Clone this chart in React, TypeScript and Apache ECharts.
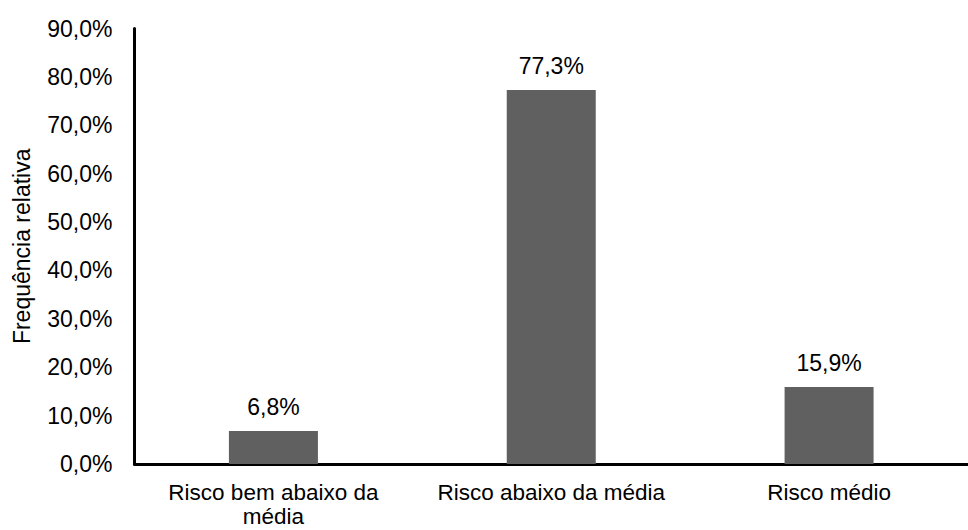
import React, { useEffect, useRef } from "react";
import * as echarts from "echarts";

const categories = ["Risco bem abaixo da\nmédia", "Risco abaixo da média", "Risco médio"];
const values = [6.8, 77.3, 15.9];
const yTicks = [0, 10, 20, 30, 40, 50, 60, 70, 80, 90];
const yAxisName = "Frequência relativa";

const fmt = (v: number) => v.toFixed(1).replace(".", ",") + "%";

export default function App() {
  const ref = useRef<HTMLDivElement>(null);
  useEffect(() => {
    if (!ref.current) return;
    const chart = echarts.init(ref.current, null, { renderer: "svg" });
    const font = "Liberation Sans, Arial, sans-serif";
    const fs = 23;
    chart.setOption({
      animation: false,
      backgroundColor: "#ffffff",
      grid: { left: 134.5, top: 28.6, width: 846, height: 435.4, containLabel: false },
      xAxis: {
        type: "category",
        data: categories,
        axisLine: { show: true, lineStyle: { color: "#000", width: 3 } },
        axisTick: { show: false },
        axisLabel: {
          color: "#000",
          fontSize: 22.5,
          fontFamily: font,
          margin: 16,
          lineHeight: 24,
          interval: 0,
        },
      },
      yAxis: {
        type: "value",
        min: yTicks[0],
        max: yTicks[yTicks.length - 1],
        interval: 10,
        name: yAxisName,
        nameLocation: "middle",
        nameGap: 101,
        nameRotate: 90,
        nameTextStyle: { color: "#000", fontSize: fs, fontFamily: font },
        axisLine: { show: true, lineStyle: { color: "#000", width: 3 } },
        axisTick: { show: false },
        splitLine: { show: false },
        axisLabel: {
          color: "#000",
          fontSize: fs,
          fontFamily: font,
          margin: 22,
          formatter: (v: number) => fmt(v),
        },
      },
      series: [
        {
          type: "bar",
          data: values,
          barWidth: 89,
          itemStyle: { color: "#606060" },
          label: {
            show: true,
            position: "top",
            distance: 12.5,
            color: "#000",
            fontSize: fs,
            fontFamily: font,
            formatter: (p: any) => fmt(p.value),
          },
        },
      ],
    });
    return () => chart.dispose();
  }, []);
  return (
    <div
      ref={ref}
      style={{ position: "fixed", left: 0, top: 0, width: 968, height: 530 }}
    />
  );
}
